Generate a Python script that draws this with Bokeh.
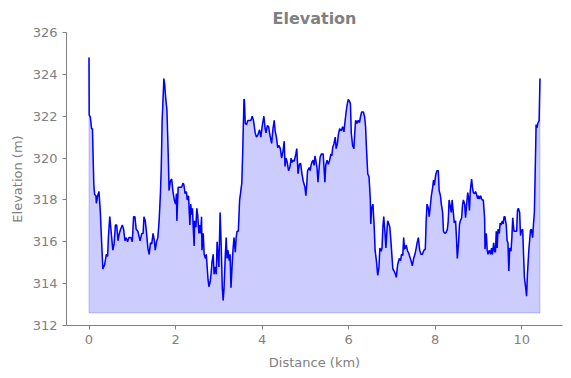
from bokeh.plotting import figure
from bokeh.models import Range1d, Title, FixedTicker
from bokeh.embed import file_html
from bokeh.resources import INLINE

distance_km = [
    0.0, 0.005, 0.03, 0.06, 0.08, 0.11, 0.13, 0.16, 0.17, 0.20, 0.23, 0.26, 0.29, 0.32, 0.36, 0.40,
    0.43, 0.45, 0.48, 0.52, 0.55, 0.58, 0.61, 0.64, 0.67, 0.70, 0.73, 0.77, 0.80, 0.83, 0.86, 0.89,
    0.92, 0.97, 1.00, 1.03, 1.06, 1.09, 1.13, 1.18, 1.22, 1.25, 1.27, 1.30, 1.33, 1.36, 1.39, 1.42,
    1.45, 1.48, 1.51, 1.53, 1.56, 1.59, 1.62, 1.65, 1.67, 1.69, 1.73, 1.75, 1.77, 1.80, 1.83, 1.85,
    1.88, 1.91, 1.94, 1.97, 2.00, 2.02, 2.03, 2.06, 2.10, 2.14, 2.17, 2.19, 2.22, 2.25, 2.27, 2.30,
    2.33, 2.35, 2.37, 2.39, 2.41, 2.43, 2.44, 2.47, 2.49, 2.51, 2.54, 2.56, 2.58, 2.60, 2.61, 2.64,
    2.66, 2.69, 2.71, 2.73, 2.75, 2.77, 2.80, 2.82, 2.84, 2.87, 2.89, 2.91, 2.94, 2.96, 2.98, 3.00,
    3.03, 3.06, 3.08, 3.10, 3.12, 3.15, 3.17, 3.19, 3.21, 3.24, 3.26, 3.28, 3.31, 3.33, 3.35, 3.38,
    3.40, 3.42, 3.45, 3.48, 3.50, 3.53, 3.55, 3.58, 3.59, 3.61, 3.64, 3.67, 3.71, 3.74, 3.77, 3.80,
    3.84, 3.87, 3.90, 3.94, 3.97, 4.00, 4.04, 4.07, 4.09, 4.12, 4.15, 4.18, 4.22, 4.25, 4.28, 4.30,
    4.33, 4.36, 4.39, 4.42, 4.45, 4.48, 4.51, 4.53, 4.55, 4.58, 4.61, 4.64, 4.67, 4.69, 4.72, 4.74,
    4.78, 4.80, 4.83, 4.86, 4.89, 4.92, 4.95, 4.99, 5.01, 5.03, 5.05, 5.09, 5.11, 5.13, 5.15, 5.18,
    5.20, 5.22, 5.24, 5.27, 5.29, 5.32, 5.34, 5.37, 5.41, 5.43, 5.45, 5.47, 5.50, 5.53, 5.56, 5.59,
    5.61, 5.63, 5.66, 5.69, 5.71, 5.74, 5.76, 5.79, 5.83, 5.86, 5.89, 5.91, 5.94, 5.96, 5.99, 6.02,
    6.04, 6.06, 6.09, 6.12, 6.14, 6.16, 6.19, 6.22, 6.25, 6.27, 6.30, 6.34, 6.37, 6.39, 6.41, 6.44,
    6.47, 6.50, 6.51, 6.53, 6.56, 6.59, 6.61, 6.64, 6.67, 6.70, 6.72, 6.75, 6.77, 6.79, 6.81, 6.84,
    6.86, 6.88, 6.90, 6.92, 6.95, 6.97, 6.99, 7.02, 7.05, 7.08, 7.10, 7.13, 7.17, 7.20, 7.22, 7.25,
    7.27, 7.29, 7.31, 7.33, 7.36, 7.38, 7.41, 7.44, 7.47, 7.50, 7.53, 7.56, 7.58, 7.61, 7.64, 7.67,
    7.70, 7.72, 7.74, 7.77, 7.79, 7.81, 7.84, 7.86, 7.88, 7.91, 7.94, 7.96, 7.98, 8.01, 8.04, 8.07,
    8.09, 8.12, 8.14, 8.17, 8.19, 8.22, 8.25, 8.28, 8.30, 8.32, 8.35, 8.37, 8.39, 8.41, 8.44, 8.47,
    8.49, 8.51, 8.54, 8.56, 8.58, 8.61, 8.63, 8.65, 8.68, 8.70, 8.72, 8.75, 8.77, 8.79, 8.81, 8.84,
    8.86, 8.88, 8.91, 8.93, 8.95, 8.98, 9.00, 9.02, 9.05, 9.07, 9.09, 9.11, 9.14, 9.15, 9.18, 9.20,
    9.22, 9.25, 9.28, 9.30, 9.32, 9.35, 9.37, 9.39, 9.41, 9.43, 9.45, 9.48, 9.50, 9.52, 9.55, 9.57,
    9.59, 9.61, 9.64, 9.66, 9.68, 9.70, 9.72, 9.75, 9.77, 9.79, 9.82, 9.85, 9.88, 9.90, 9.92, 9.95,
    9.97, 9.99, 10.02, 10.04, 10.06, 10.09, 10.11, 10.13, 10.16, 10.18, 10.20, 10.22, 10.25, 10.27,
    10.29, 10.31, 10.33, 10.35, 10.37, 10.40, 10.41, 10.42,
]

elevation_m = [
    324.8, 322.05, 321.97, 321.4, 321.4, 318.77, 318.26, 318.2, 317.84, 318.2, 318.4, 317.5, 316.05, 314.7, 314.9, 315.4,
    315.3, 316.3, 317.2, 316.3, 315.6, 315.9, 316.8, 316.8, 316.05, 316.4, 316.6, 316.8, 316.6, 316.05, 316.2, 316.0,
    316.2, 316.2, 316.0, 317.2, 317.2, 316.6, 316.5, 316.05, 316.4, 316.4, 317.2, 317.0, 316.4, 315.7, 315.4, 315.95,
    315.9, 316.4, 316.05, 315.6, 316.0, 316.2, 317.0, 318.3, 319.6, 321.8, 323.8, 323.5, 322.9, 322.3, 320.2, 318.45,
    318.9, 319.0, 318.4, 318.0, 317.8, 318.3, 317.0, 318.6, 318.6, 318.6, 318.8, 318.75, 318.3, 318.4, 318.0, 318.2,
    316.8, 317.8, 317.3, 317.6, 316.6, 315.8, 317.0, 316.7, 317.6, 317.3, 316.4, 316.8, 316.4, 317.2, 315.6, 316.4,
    315.4, 315.2, 315.4, 314.8, 314.2, 313.85, 314.1, 314.45, 315.0, 315.4, 314.45, 314.8, 314.45, 316.0, 315.4, 314.8,
    317.4, 315.4, 313.8, 313.2, 313.8, 315.4, 316.2, 315.2, 315.6, 315.1, 315.4, 313.8, 315.0, 315.7, 316.2, 315.5,
    316.2, 316.5, 316.5, 318.0, 318.3, 318.8, 320.2, 322.8, 322.8, 321.65, 321.6, 321.8, 321.8, 321.8, 322.0, 321.8,
    321.2, 321.0, 321.1, 321.35, 321.0, 321.5, 322.0, 321.4, 321.2, 321.55, 321.5, 321.1, 320.7, 321.4, 321.8, 321.3,
    321.0, 320.5, 320.6, 320.45, 320.0, 320.3, 320.8, 319.6, 320.0, 319.8, 319.4, 319.55, 320.0, 319.8, 319.9, 319.85,
    320.2, 320.45, 319.25, 319.7, 319.75, 319.25, 318.9, 318.6, 318.2, 318.7, 319.4, 319.55, 319.4, 319.65, 319.8, 319.9,
    319.65, 320.1, 319.9, 319.5, 318.85, 319.6, 320.05, 320.2, 320.2, 319.55, 318.85, 319.65, 319.9, 319.7, 319.9, 320.2,
    320.1, 320.5, 320.7, 321.0, 320.45, 320.7, 321.1, 321.4, 321.3, 321.5, 321.25, 321.65, 322.2, 322.5, 322.8, 322.7,
    322.6, 321.2, 320.6, 320.45, 321.2, 321.8, 321.65, 321.8, 321.7, 321.95, 322.2, 322.2, 321.95, 321.5, 320.5, 319.25,
    319.1, 318.0, 316.85, 317.6, 317.8, 316.7, 315.6, 315.1, 314.4, 314.8, 315.7, 315.55, 315.7, 316.7, 317.2, 316.4,
    315.7, 316.4, 317.0, 316.9, 316.7, 316.2, 315.6, 314.7, 314.6, 314.45, 314.3, 314.9, 315.2, 315.1, 315.4, 315.35,
    316.2, 315.65, 315.7, 315.85, 315.55, 315.5, 315.3, 315.1, 314.85, 315.2, 315.4, 315.7, 315.95, 316.2, 315.6, 315.4,
    315.4, 315.5, 315.6, 315.65, 317.0, 317.8, 317.6, 317.2, 317.6, 318.2, 318.6, 318.95, 318.7, 319.2, 319.4, 319.4,
    318.45, 318.2, 317.8, 317.4, 316.5, 316.4, 316.45, 316.6, 317.0, 318.0, 317.65, 317.4, 318.0, 317.55, 316.9, 317.0,
    316.2, 315.2, 316.0, 316.85, 317.0, 317.15, 317.75, 318.0, 317.8, 317.15, 317.65, 318.35, 318.1, 317.5, 318.45, 319.0,
    318.6, 318.35, 318.3, 318.4, 318.3, 318.05, 318.2, 318.05, 318.2, 318.05, 318.0, 318.0, 317.15, 315.65, 316.4, 315.6,
    315.4, 315.6, 315.4, 315.7, 315.4, 315.95, 315.55, 315.5, 316.5, 315.7, 316.6, 316.4, 316.9, 316.8, 317.0, 316.85,
    317.2, 317.2, 316.8, 316.05, 315.95, 314.6, 315.7, 315.55, 316.2, 317.15, 316.5, 316.5, 316.5, 317.5, 317.6, 317.4,
    316.3, 316.55, 316.6, 315.4, 314.3, 313.8, 313.4, 314.45, 315.55, 316.05, 316.55, 316.6, 316.2, 316.85,
    317.4, 319.4, 321.6, 321.45, 321.65, 321.8, 322.85, 323.8,
]

fill_base_m = 312.6

x_ticks = [0, 2, 4, 6, 8, 10]
y_ticks = [312, 314, 316, 318, 320, 322, 324, 326]

FONT = "DejaVu Sans"
GRAY = "#808080"

p = figure(width=571, height=378, output_backend="svg", toolbar_location=None,
           x_range=Range1d(-0.52, 10.94), y_range=Range1d(312, 326),
           min_border_left=66, min_border_right=9, min_border_top=32, min_border_bottom=53)
p.title = None
p.add_layout(Title(text="Elevation", align="center", text_font=FONT, text_font_size="16px",
                   text_font_style="bold", text_color=GRAY), "above")

poly_x = [distance_km[0]] + distance_km + [distance_km[-1]]
poly_y = [fill_base_m] + elevation_m + [fill_base_m]
p.patch(poly_x, poly_y, fill_color="blue", fill_alpha=0.2, line_color="blue", line_alpha=0.2, line_width=1)
p.line(distance_km, elevation_m, line_color="blue", line_width=1.5)

p.outline_line_color = None
p.xgrid.visible = False
p.ygrid.visible = False
for ax in (p.xaxis[0], p.yaxis[0]):
    ax.axis_line_color = GRAY
    ax.major_tick_line_color = GRAY
    ax.minor_tick_line_color = None
    ax.major_tick_in = 0
    ax.major_tick_out = 4
    ax.major_label_text_color = GRAY
    ax.major_label_text_font = FONT
    ax.major_label_text_font_size = "13px"
    ax.axis_label_text_color = GRAY
    ax.axis_label_text_font = FONT
    ax.axis_label_text_font_size = "13px"
    ax.axis_label_text_font_style = "normal"
p.xaxis.ticker = FixedTicker(ticks=x_ticks)
p.yaxis.ticker = FixedTicker(ticks=y_ticks)
p.xaxis.axis_label = "Distance (km)"
p.yaxis.axis_label = "Elevation (m)"
p.xaxis.axis_label_standoff = 8

open("out.html", "w").write(file_html(p, INLINE))
